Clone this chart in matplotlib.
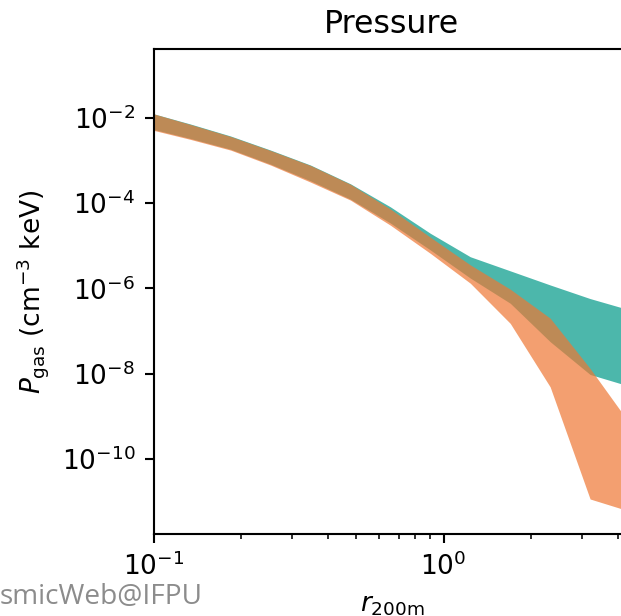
import numpy as np
from matplotlib import pyplot as plt
from matplotlib import ticker

# Raio em unidades de r_200m (bins logaritmicos)
r = [0.0977, 0.1342, 0.1843, 0.2532, 0.3477, 0.4775, 0.6558,
     0.9007, 1.237, 1.699, 2.333, 3.205, 4.402]

# Faixa 1 (verde-azulado)
p1_hi = [1.29e-2, 7.08e-3, 3.72e-3, 1.74e-3, 7.76e-4, 2.82e-4, 8.13e-5,
         1.95e-5, 5.50e-6, 2.57e-6, 1.20e-6, 5.75e-7, 3.09e-7]
p1_lo = [5.50e-3, 3.24e-3, 1.82e-3, 8.13e-4, 3.31e-4, 1.23e-4, 3.39e-5,
         7.94e-6, 1.74e-6, 4.47e-7, 5.62e-8, 9.55e-9, 5.01e-9]

# Faixa 2 (laranja)
p2_hi = [1.29e-2, 6.92e-3, 3.63e-3, 1.70e-3, 7.59e-4, 2.75e-4, 7.24e-5,
         1.58e-5, 3.55e-6, 9.55e-7, 2.00e-7, 1.32e-8, 6.61e-10]
p2_lo = [5.25e-3, 3.09e-3, 1.74e-3, 7.76e-4, 3.09e-4, 1.17e-4, 3.02e-5,
         6.61e-6, 1.32e-6, 1.51e-7, 4.90e-9, 1.15e-11, 5.89e-12]

y_ticks = [1e-2, 1e-4, 1e-6, 1e-8, 1e-10]

dpi = 190
fig = plt.figure(figsize=(621 / dpi, 616 / dpi), dpi=dpi)
ax = fig.add_axes([153.7 / 621, 1 - 534 / 616, (630 - 153.7) / 621, (534 - 49.3) / 616])

ax.fill_between(r, p1_lo, p1_hi, color='#009988', alpha=0.7, lw=0)
ax.fill_between(r, p2_lo, p2_hi, color='#EE7733', alpha=0.7, lw=0)

ax.set_xscale('log')
ax.set_yscale('log')
ax.set_xlim(0.1, 4.4)
ax.set_ylim(10**-11.76, 10**-0.396)
ax.set_yticks(y_ticks)
ax.yaxis.set_minor_locator(ticker.NullLocator())

ax.set_title('Pressure')
ax.set_xlabel(r'$r_{\rm 200m}$')
ax.set_ylabel(r'$P_{\rm gas}$ (cm$^{-3}$ keV)')

# marca d'agua (so a parte visivel no recorte)
fig.text(203 / 621, 1 - 604 / 616, 'smicWeb@IFPU', ha='right', va='baseline',
         color='#8c8c8c', fontsize=10.6, family='Open Sans')

fig.savefig('out.png', dpi=dpi)
